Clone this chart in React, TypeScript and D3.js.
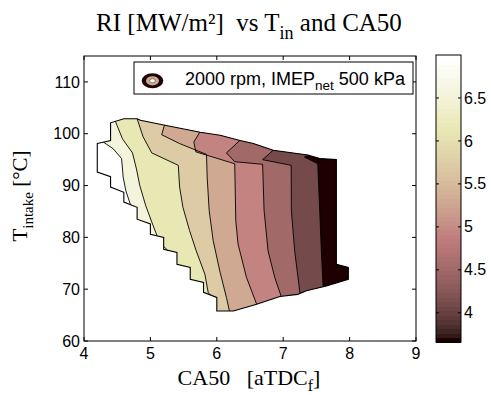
import React from 'react';
import * as d3 from 'd3';

// ---------- data ----------
const xTicks = [4, 5, 6, 7, 8, 9];
const yTicks = [60, 70, 80, 90, 100, 110];
const cbTicks = [4, 4.5, 5, 5.5, 6, 6.5];
const riLimits = [3.66, 7.0];
// band lower levels, darkest -> lightest (RI, MW/m²)
const bandLevels = [3.66, 4.07, 4.49, 4.91, 5.32, 5.74, 6.16, 6.58, 7.0];

// outline of the measured region [CA50, T_intake]
const regionOutline: [number, number][] = [
  [4.2, 98.1], [4.4, 98.7], [4.4, 102.1], [4.6, 102.9], [4.8, 102.9], [4.85, 102.6],
  [5.2, 101.7], [5.75, 100.3], [6.05, 99.7], [6.35, 98.7], [6.55, 98.1], [6.85, 96.8],
  [7.37, 95.9], [7.55, 95.2], [7.8, 95.0],
  [7.8, 74.8], [7.98, 74.2], [7.98, 71.9], [7.65, 70.6], [7.35, 69.7], [7.22, 69.0],
  [6.95, 68.6], [6.6, 67.1], [6.25, 65.8], [6.0, 65.8],
  [6.0, 68.4], [5.8, 69.4], [5.8, 71.3], [5.6, 71.9], [5.6, 74.2], [5.4, 74.8],
  [5.4, 77.1], [5.2, 77.7], [5.2, 80.0], [5.0, 80.6], [5.0, 82.6], [4.8, 83.5],
  [4.8, 85.8], [4.6, 86.8], [4.6, 88.7], [4.4, 89.7], [4.4, 91.7], [4.2, 92.6],
];

// iso-lines (top -> bottom), each separates band >= level (left) from band < level (right)
const iso700: [number, number][] = [[4.29, 98.4], [4.44, 97.1], [4.566, 95.2], [4.59, 91.6], [4.63, 89.0], [4.70, 86.3]];
const iso658: [number, number][] = [[4.466, 102.6], [4.58, 99.0], [4.73, 96.3], [4.79, 93.2], [4.84, 90.0], [4.93, 86.1], [5.04, 82.3], [5.14, 79.0], [5.26, 77.5]];
const iso616: [number, number][] = [[4.8, 102.9], [4.89, 99.4], [5.02, 96.3], [5.42, 93.9], [5.44, 89.7], [5.49, 85.8], [5.59, 81.3], [5.69, 77.4], [5.82, 72.9], [5.87, 69.4], [5.9, 68.9]];
const iso574: [number, number][] = [[5.21, 101.6], [5.17, 99.8], [5.44, 98.1], [5.845, 96.0], [5.855, 91.6], [5.885, 85.2], [5.945, 79.4], [6.045, 73.5], [6.145, 68.4], [6.19, 65.8]];
const iso532: [number, number][] = [[5.744, 100.3], [5.654, 98.4], [5.684, 96.5], [6.195, 94.5], [6.27, 94.2], [6.286, 83.2], [6.32, 78.7], [6.446, 72.3], [6.6, 67.1]];
const iso491: [number, number][] = [[6.346, 98.7], [6.145, 96.3], [6.27, 94.6], [6.69, 94.1], [6.712, 85.2], [6.772, 77.4], [6.872, 72.3], [6.97, 68.6]];
const iso449: [number, number][] = [[6.847, 96.8], [6.69, 95.0], [7.12, 93.9], [7.123, 85.2], [7.173, 77.4], [7.248, 69.7]];
const iso407: [number, number][] = [[7.39, 95.9], [7.32, 95.5], [7.52, 94.2], [7.55, 85.2], [7.574, 77.4], [7.6, 70.7]];

// lightest -> darkest order, aligned with bandLevels[8..1]
const isolines = [iso700, iso658, iso616, iso574, iso532, iso491, iso449, iso407];

// MATLAB "pink" colormap
function pinkColor(i: number, m = 64): string {
  const g = i / (m - 1);
  const n = Math.floor((3 / 8) * m);
  const hr = i < n ? (i + 1) / n : 1;
  const hg = i < n ? 0 : i < 2 * n ? (i - n + 1) / n : 1;
  const hb = i < 2 * n ? 0 : (i - 2 * n + 1) / (m - 2 * n);
  const f = (h: number) => Math.round(255 * Math.sqrt((2 * g + h) / 3));
  return `rgb(${f(hr)},${f(hg)},${f(hb)})`;
}
function colorOf(v: number): string {
  const t = (v - riLimits[0]) / (riLimits[1] - riLimits[0]);
  const idx = Math.max(0, Math.min(63, Math.round(t * 63)));
  return pinkColor(idx);
}

const SANS = '"Liberation Sans", Arial, sans-serif';
const SERIF = '"Liberation Serif", "Times New Roman", serif';

export default function App() {
  const W = 491, H = 395;
  const L = 84, R = 416, T = 56, B = 341;
  const x = d3.scaleLinear().domain([4, 9]).range([L, R]);
  const y = d3.scaleLinear().domain([60, 115]).range([B, T]);
  const cbX0 = 436, cbX1 = 461, cbT = 55, cbB = 342;
  const cb = d3.scaleLinear().domain(riLimits).range([cbB, cbT]);

  const line = d3.line<[number, number]>().x(d => x(d[0])).y(d => y(d[1]));
  const outlinePath = line(regionOutline) + 'Z';

  const extended = (pts: [number, number][]) => {
    const first = pts[0], last = pts[pts.length - 1];
    return [[first[0], first[1] + 12], ...pts, [last[0], last[1] - 12]] as [number, number][];
  };
  const rightOf = (pts: [number, number][]) => {
    const e = extended(pts);
    const top = e[0], bot = e[e.length - 1];
    return line([...e, [10, bot[1]], [10, top[1]]]) + 'Z';
  };

  const nCb = 64;
  const cbStep = (riLimits[1] - riLimits[0]) / nCb;
  const tick = 4;

  return (
    <div style={{ position: 'absolute', left: 0, top: 0 }}>
      <svg width={W} height={H} style={{ display: 'block', background: '#fff' }}>
        <defs>
          <clipPath id="region">
            <path d={outlinePath} />
          </clipPath>
        </defs>
        {/* title */}
        <text x={249} y={31} textAnchor="middle" fontFamily={SERIF} fontSize={25} xmlSpace="preserve" style={{ whiteSpace: 'pre' }}>
          <tspan>RI [MW/m²]  vs T</tspan>
          <tspan fontSize={18} dy={8}>in</tspan>
          <tspan dy={-8}> and CA50</tspan>
        </text>

        {/* filled contours */}
        <g clipPath="url(#region)">
          <path d={outlinePath} fill={colorOf(bandLevels[8])} />
          {isolines.map((iso, k) => (
            <path key={'f' + k} d={rightOf(iso)} fill={colorOf(bandLevels[7 - k])} />
          ))}
          {isolines.map((iso, k) => (
            <path key={'l' + k} d={line(extended(iso)) || ''} fill="none" stroke="#000" strokeWidth={0.9} />
          ))}
        </g>
        <path d={outlinePath} fill="none" stroke="#000" strokeWidth={1.1} strokeLinejoin="miter" />

        {/* axes box */}
        <rect x={L} y={T} width={R - L} height={B - T} fill="none" stroke="#000" strokeWidth={1} />
        {xTicks.map(v => (
          <g key={'x' + v}>
            <line x1={x(v)} x2={x(v)} y1={B} y2={B - tick} stroke="#000" />
            <line x1={x(v)} x2={x(v)} y1={T} y2={T + tick} stroke="#000" />
            <text x={x(v)} y={359} textAnchor="middle" fontFamily={SANS} fontSize={16}>{v}</text>
          </g>
        ))}
        {yTicks.map(v => (
          <g key={'y' + v}>
            <line x1={L} x2={L + tick} y1={y(v)} y2={y(v)} stroke="#000" />
            <line x1={R} x2={R - tick} y1={y(v)} y2={y(v)} stroke="#000" />
            <text x={80} y={y(v)} dy="0.35em" textAnchor="end" fontFamily={SANS} fontSize={16}>{v}</text>
          </g>
        ))}

        {/* axis labels */}
        <text x={249} y={385} textAnchor="middle" fontFamily={SERIF} fontSize={22} xmlSpace="preserve" style={{ whiteSpace: 'pre' }}>
          <tspan>CA50   [aTDC</tspan>
          <tspan fontSize={16} dy={6}>f</tspan>
          <tspan dy={-6}>]</tspan>
        </text>
        <text transform={`translate(27,196) rotate(-90)`} textAnchor="middle" fontFamily={SERIF} fontSize={21} xmlSpace="preserve" style={{ whiteSpace: 'pre' }}>
          <tspan>T</tspan>
          <tspan fontSize={15} dy={6}>intake</tspan>
          <tspan dy={-6}> [°C]</tspan>
        </text>

        {/* legend */}
        <rect x={134} y={62} width={279} height={32} fill="#fff" stroke="#000" strokeWidth={1} />
        <ellipse cx={152.5} cy={80.8} rx={10.8} ry={7.5} fill={colorOf(bandLevels[0])} />
        <ellipse cx={152.5} cy={80.8} rx={6.5} ry={4.6} fill={colorOf(bandLevels[4])} />
        <ellipse cx={152.5} cy={80.8} rx={2.8} ry={2.1} fill="#fff" stroke="#333" strokeWidth={0.6} />
        <text x={185} y={84.5} fontFamily={SANS} fontSize={18} xmlSpace="preserve" style={{ whiteSpace: 'pre' }}>
          <tspan>2000 rpm, IMEP</tspan>
          <tspan fontSize={13.5} dy={5}>net</tspan>
          <tspan dy={-5}> 500 kPa</tspan>
        </text>

        {/* colorbar */}
        {d3.range(nCb).map(i => {
          const v0 = riLimits[0] + i * cbStep;
          const v1 = v0 + cbStep;
          return (
            <rect key={'c' + i} x={cbX0} width={cbX1 - cbX0} y={cb(v1)} height={cb(v0) - cb(v1) + 0.6}
              fill={pinkColor(i)} shapeRendering="crispEdges" />
          );
        })}
        <rect x={cbX0} y={cbT} width={cbX1 - cbX0} height={cbB - cbT} fill="none" stroke="#000" />
        {cbTicks.map(v => (
          <g key={'cb' + v}>
            <line x1={cbX0} x2={cbX0 + 3} y1={cb(v)} y2={cb(v)} stroke="#000" />
            <line x1={cbX1} x2={cbX1 - 3} y1={cb(v)} y2={cb(v)} stroke="#000" />
            <text x={464} y={cb(v)} dy="0.35em" fontFamily={SANS} fontSize={16}>{v}</text>
          </g>
        ))}
      </svg>
    </div>
  );
}
